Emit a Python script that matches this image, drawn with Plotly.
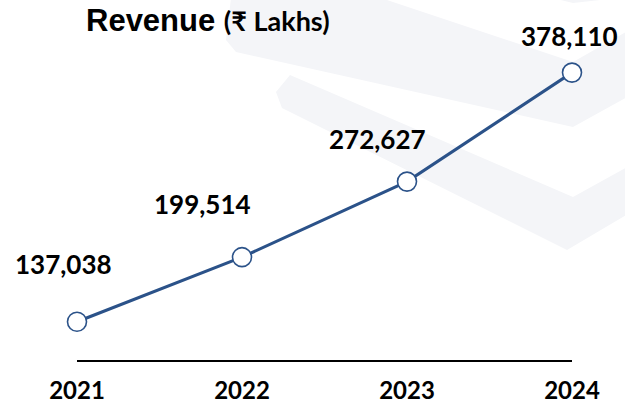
import plotly.graph_objects as go

years = ["2021", "2022", "2023", "2024"]
revenue = [137038, 199514, 272627, 378110]
label_shift_x = [-14, -40, -30, -3]
label_shift_y = [58, 53, 43, 37]

LINE = "#2B5289"
NUM_FONT = "Lato, Roboto, Arial"

W, H = 625, 404
L, R, T, B = 77, W - 572, 50, H - 360
pw, ph = W - L - R, H - T - B

fig = go.Figure()

fig.add_trace(go.Scatter(
    x=years, y=revenue, mode="lines+markers",
    line=dict(color=LINE, width=3),
    marker=dict(size=19, color="white", line=dict(color=LINE, width=1.6)),
    cliponaxis=False, hoverinfo="skip", showlegend=False,
))

for i, (v, dx, dy) in enumerate(zip(revenue, label_shift_x, label_shift_y)):
    fig.add_annotation(x=i, y=v, xref="x", yref="y", text=f"<b>{v:,}</b>",
                       showarrow=False, xshift=dx, yshift=dy,
                       font=dict(family=NUM_FONT, size=26, color="black"))

def px(x, y):
    return (x - L) / pw, (H - B - y) / ph

tx, ty = px(84, 20)
fig.add_annotation(xref="paper", yref="paper", x=tx, y=ty, yanchor="middle",
                   xanchor="left", showarrow=False,
                   text="<b>Revenue</b> <span style='font-size:27px;font-family:Lato, Roboto'><b>(₹ Lakhs)</b></span>",
                   font=dict(family="Liberation Sans, Arial", size=31, color="black"))

# faint background watermark chevrons (pixel coords)
bands = [
    [(232, -10), (357, -10), (573, 62), (640, 24), (640, 90), (573, 127), (236, 52), (226, 40)],
    [(290, 75), (573, 197), (640, 160), (640, 207), (567, 250), (282, 108), (276, 92)],
    [(520, -10), (640, -10), (600, 0), (573, 3)],
]
for band in bands:
    pts = [px(*p) for p in band]
    path = "M " + " L ".join(f"{a:.4f},{b:.4f}" for a, b in pts) + " Z"
    fig.add_shape(type="path", path=path, xref="paper", yref="paper",
                  fillcolor="#f4f5f8", line=dict(width=0), layer="below")

fig.update_xaxes(
    type="category", range=[0, 3], showgrid=False, zeroline=False,
    showline=True, linecolor="black", linewidth=1.5, ticks="",
    tickfont=dict(family=NUM_FONT, size=24, color="black"),
    ticklabelstandoff=8, automargin=False,
    tickprefix="<b>", ticksuffix="</b>",
)
fig.update_yaxes(range=[100000, 400000], visible=False, showgrid=False,
                 automargin=False)

fig.update_layout(
    width=W, height=H,
    margin=dict(l=L, r=R, t=T, b=B, autoexpand=False),
    plot_bgcolor="rgba(0,0,0,0)", paper_bgcolor="white",
)

fig.write_html("out.html", config={"displayModeBar": False},
               post_script="document.body.style.margin='0';document.body.style.overflow='hidden';")
